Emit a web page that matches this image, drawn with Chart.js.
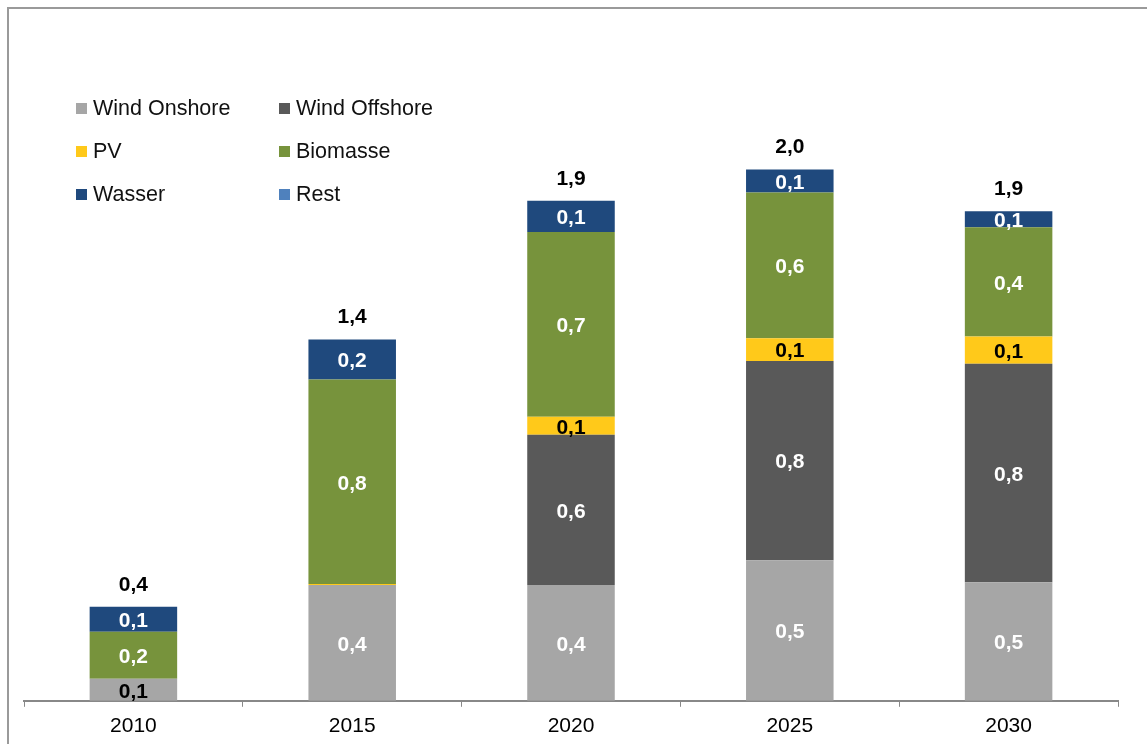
<!DOCTYPE html>
<html>
<head>
<meta charset="utf-8">
<script src="https://cdn.jsdelivr.net/npm/chart.js@4/dist/chart.umd.min.js"></script>
<style>
  html, body { margin: 0; padding: 0; background: #fff; }
  #wrap { position: relative; width: 1147px; height: 744px; overflow: hidden; }
  #frame { position: absolute; left: 7px; top: 7px; width: 1200px; height: 800px;
           border-top: 2px solid #9a9a9a; border-left: 2px solid #9a9a9a; }
  #legend { position: absolute; left: 76px; top: 94px; display: grid;
            grid-template-columns: 203px 200px; row-gap: 15px;
            font: 21.5px "Liberation Sans", Arial, sans-serif; color: #111; }
  .lg-item { display: flex; align-items: center; height: 28px; }
  .lg-box { width: 11px; height: 11px; margin-right: 6px; }
  canvas { position: absolute; left: 0; top: 0; }
</style>
</head>
<body>
<div id="wrap">
  <div id="frame"></div>
  <canvas id="chart" width="1147" height="760"></canvas>
  <div id="legend"></div>
</div>
<script>
// ============================================
// DATA
// ============================================

const years        = ['2010', '2015', '2020', '2025', '2030'];
const windOnshore  = [0.085, 0.445, 0.445, 0.54, 0.455];
const windOffshore = [0, 0, 0.577, 0.765, 0.84];
const pv           = [0, 0.004, 0.069, 0.088, 0.104];
const biomasse     = [0.18, 0.785, 0.71, 0.56, 0.42];
const wasser       = [0.096, 0.154, 0.12, 0.088, 0.062];
const rest         = [0, 0, 0, 0, 0];

const seriesNames  = ['Wind Onshore', 'Wind Offshore', 'PV', 'Biomasse', 'Wasser', 'Rest'];
const seriesData   = [windOnshore, windOffshore, pv, biomasse, wasser, rest];
const seriesColors = ['#a6a6a6', '#595959', '#ffc91a', '#77933c', '#1f497d', '#4f81bd'];
const labelColors  = ['#fff', '#fff', '#000', '#fff', '#fff', '#fff'];

const FONT = '"Liberation Sans", Arial, sans-serif';
const fmt  = v => v.toFixed(1).replace('.', ',');

// ============================================
// LABEL PLUGIN
// ============================================

const valueLabels = {
  id: 'valueLabels',
  afterDatasetsDraw(chart) {
    const ctx = chart.ctx;
    ctx.save();
    ctx.font = 'bold 21px ' + FONT;
    ctx.textAlign = 'center';
    ctx.textBaseline = 'middle';
    const tops = [];
    chart.data.datasets.forEach((ds, di) => {
      const meta = chart.getDatasetMeta(di);
      meta.data.forEach((bar, i) => {
        const v = ds.data[i];
        if (tops[i] === undefined || bar.y < tops[i]) tops[i] = bar.y;
        if (v < 0.05) return;
        const h = bar.base - bar.y;
        // small onshore segment gets dark text like the original
        ctx.fillStyle = (di === 0 && h < 30) ? '#000' : labelColors[di];
        ctx.fillText(fmt(v), bar.x, (bar.y + bar.base) / 2 + 2);
      });
    });
    ctx.fillStyle = '#000';
    years.forEach((_, i) => {
      const total = seriesData.reduce((s, arr) => s + arr[i], 0);
      const bar = chart.getDatasetMeta(0).data[i];
      ctx.fillText(fmt(total), bar.x, tops[i] - 22);
    });
    ctx.restore();
  }
};

// ============================================
// LEGEND
// ============================================

document.getElementById('legend').innerHTML = seriesNames.map((n, i) =>
  `<div class="lg-item"><span class="lg-box" style="background:${seriesColors[i]}"></span>${n}</div>`
).join('');

// ============================================
// CHART
// ============================================

new Chart(document.getElementById('chart'), {
  type: 'bar',
  data: {
    labels: years,
    datasets: seriesNames.map((n, i) => ({
      label: n,
      data: seriesData[i],
      backgroundColor: seriesColors[i],
      borderWidth: 0,
      categoryPercentage: 1,
      barPercentage: 0.4
    }))
  },
  options: {
    responsive: false,
    animation: false,
    layout: { padding: { left: 24, right: 29, top: 50, bottom: 14 } },
    plugins: { legend: { display: false }, tooltip: { enabled: false } },
    scales: {
      x: {
        stacked: true,
        grid: { display: true, drawOnChartArea: false, offset: true, tickLength: 6, color: '#888', lineWidth: 1 },
        border: { display: true, color: '#888', width: 2 },
        ticks: { color: '#000', font: { family: FONT, size: 21 }, padding: 7 }
      },
      y: {
        stacked: true, display: false, min: 0, max: 2.5
      }
    }
  },
  plugins: [valueLabels]
});
</script>
</body>
</html>
